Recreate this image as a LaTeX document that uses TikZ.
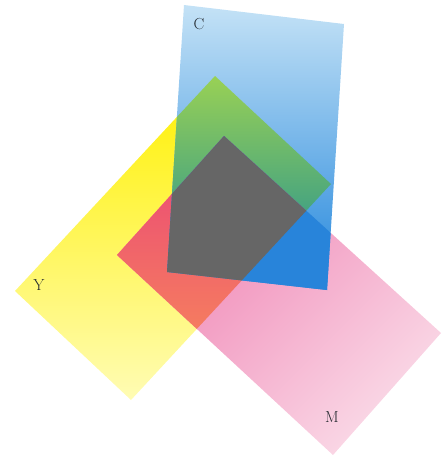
\documentclass[tikz,border=0pt]{standalone}
\usepackage{tikz}
\usetikzlibrary{positioning}
\definecolor{cyantop}{HTML}{C4E2F6}
\definecolor{cyanbot}{HTML}{2286DC}
\definecolor{yeltop}{HTML}{FFF000}
\definecolor{yelbot}{HTML}{FFFCB4}
\definecolor{magtop}{HTML}{EE7AAE}
\definecolor{magbot}{HTML}{FAD8E6}
\definecolor{greentop}{HTML}{C4E83E}
\definecolor{greenbot}{HTML}{168A99}
\definecolor{redtop}{HTML}{EA4478}
\definecolor{redbot}{HTML}{FCA050}
\definecolor{bluemix}{HTML}{2884DA}
\definecolor{greymix}{HTML}{666666}
\definecolor{labelink}{HTML}{22282E}

\newcommand{\cyanpath}{(c1) -- (c2) -- (c3) -- (c4) -- cycle}
\newcommand{\yelpath}{(y1) -- (y2) -- (y3) -- (y4) -- cycle}
\newcommand{\magpath}{(m1) -- (m2) -- (m3) -- (m4) -- cycle}

\begin{document}
\begin{tikzpicture}[x=1pt, y=-1pt,
  sheetlabel/.style={font=\fontsize{16}{19}\selectfont, text=labelink, inner sep=0pt}
]
  \useasboundingbox (0,0) rectangle (444,460);
  % corners of the three sheets
  \coordinate (c1) at (184,5);   \coordinate (c2) at (344,24);
  \coordinate (c3) at (327,290); \coordinate (c4) at (167,272);
  \coordinate (y1) at (215,76);  \coordinate (y2) at (331,184);
  \coordinate (y3) at (131,400); \coordinate (y4) at (15,291);
  \coordinate (m1) at (224,136); \coordinate (m2) at (441,333);
  \coordinate (m3) at (333,455); \coordinate (m4) at (117,255);

  % single sheets
  \shade[top color=yeltop, bottom color=yelbot] \yelpath;
  \shade[top color=magtop, bottom color=magbot, shading angle=45] \magpath;
  \shade[top color=cyantop, bottom color=cyanbot] \cyanpath;

  % overlaps of two sheets
  \begin{scope}
    \clip \yelpath;
    \shade[top color=greentop, bottom color=greenbot] \cyanpath;
  \end{scope}
  \begin{scope}
    \clip \yelpath;
    \shade[top color=redtop, bottom color=redbot] \magpath;
  \end{scope}
  \begin{scope}
    \clip \magpath;
    \fill[bluemix] \cyanpath;
  \end{scope}

  % all three
  \begin{scope}
    \clip \yelpath;
    \clip \magpath;
    \fill[greymix] \cyanpath;
  \end{scope}

  \node[sheetlabel] (lc) at (199,24)  {C};
  \node[sheetlabel] (ly) at (39,285)  {Y};
  \node[sheetlabel] (lm) at (332,417) {M};
\end{tikzpicture}
\end{document}
